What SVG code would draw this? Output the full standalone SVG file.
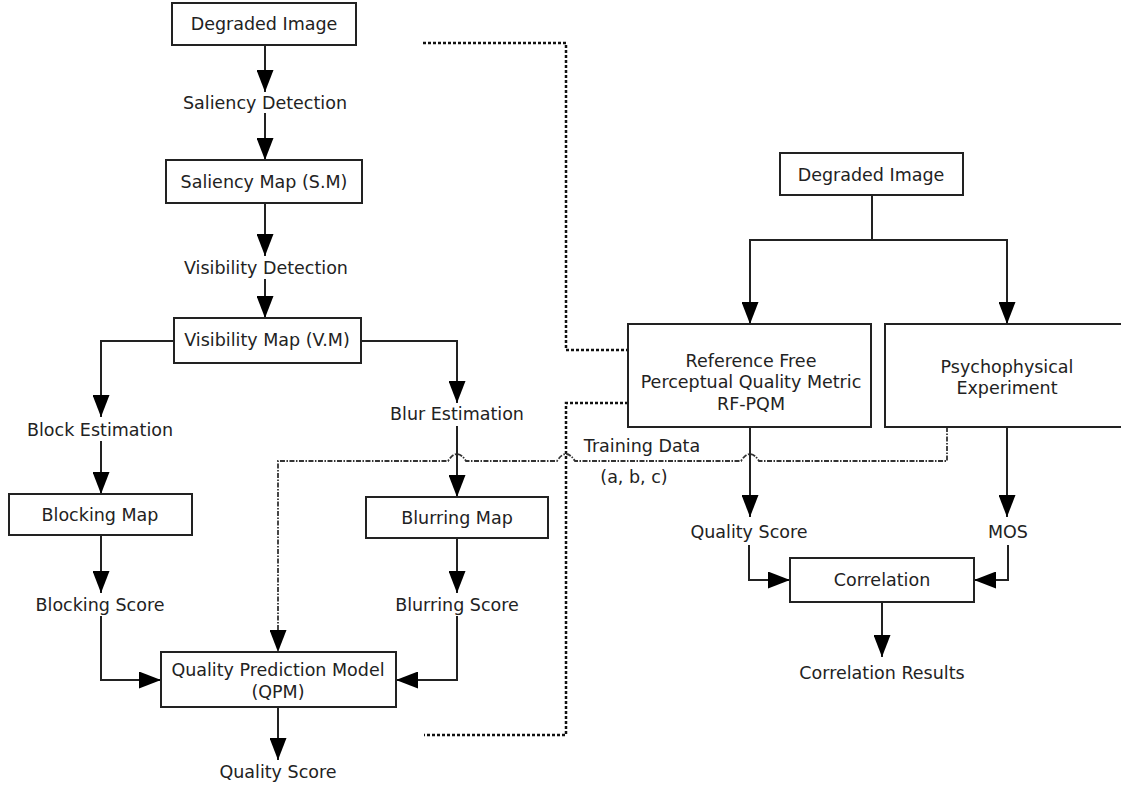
<svg xmlns="http://www.w3.org/2000/svg" width="1121" height="788" viewBox="0 0 1121 788">
<style>
.box{fill:#fff;stroke:#222;stroke-width:2}
.t{font-family:"DejaVu Sans",Verdana,sans-serif;font-size:17.5px;fill:#222;text-anchor:middle;dominant-baseline:central}
.c{fill:none;stroke:#222;stroke-width:2}
.d{fill:none;stroke:#111;stroke-width:2.5;stroke-dasharray:3,2}
.tr{fill:none;stroke:#333;stroke-width:1.8;stroke-dasharray:5,1.5,1.5,1.5}
</style>
<defs>
<marker id="ah" markerUnits="userSpaceOnUse" markerWidth="22" markerHeight="17" viewBox="0 0 22 17" refX="22" refY="8.5" orient="auto">
<path d="M0,0 L22,8.5 L0,17 Z" fill="#000"/>
</marker>
</defs>
<g id="connectors">
<path class="c" d="M265,45 V92" marker-end="url(#ah)"/>
<path class="c" d="M265,113 V160" marker-end="url(#ah)"/>
<path class="c" d="M265,203 V256" marker-end="url(#ah)"/>
<path class="c" d="M265,279 V318" marker-end="url(#ah)"/>
<path class="c" d="M174,341 H101 V417" marker-end="url(#ah)"/>
<path class="c" d="M101,441 V494" marker-end="url(#ah)"/>
<path class="c" d="M361,341 H457 V403" marker-end="url(#ah)"/>
<path class="c" d="M457,426 V497" marker-end="url(#ah)"/>
<path class="c" d="M101,535 V593" marker-end="url(#ah)"/>
<path class="c" d="M101,616 V680 H161" marker-end="url(#ah)"/>
<path class="c" d="M457,538 V593" marker-end="url(#ah)"/>
<path class="c" d="M457,616 V680 H396" marker-end="url(#ah)"/>
<path class="c" d="M278,707 V760" marker-end="url(#ah)"/>
<path class="d" d="M423,43 H566 V350 H628"/>
<path class="d" d="M628,403 H566 V735 H424"/>
<path class="tr" d="M947,427 V461 H759 Q750,447 741,461 H575 Q566,447 557,461 H466 Q457,447 448,461 H278 V652" marker-end="url(#ah)"/>
<path class="c" d="M872,195 V240"/>
<path class="c" d="M872,240 H750 V324" marker-end="url(#ah)"/>
<path class="c" d="M872,240 H1007 V324" marker-end="url(#ah)"/>
<path class="c" d="M750,427 V517" marker-end="url(#ah)"/>
<path class="c" d="M749,545 V580 H790" marker-end="url(#ah)"/>
<path class="c" d="M1007,427 V517" marker-end="url(#ah)"/>
<path class="c" d="M1008,545 V580 H974" marker-end="url(#ah)"/>
<path class="c" d="M882,602 V657" marker-end="url(#ah)"/>
</g>
<g id="labels">
<text class="t" x="265" y="103">Saliency Detection</text>
<text class="t" x="266" y="268">Visibility Detection</text>
<text class="t" x="100" y="430">Block Estimation</text>
<text class="t" x="457" y="414">Blur Estimation</text>
<text class="t" x="100" y="605">Blocking Score</text>
<text class="t" x="457" y="605">Blurring Score</text>
<text class="t" x="278" y="772">Quality Score</text>
<text class="t" x="642" y="446">Training Data</text>
<text class="t" x="634" y="477">(a, b, c)</text>
<text class="t" x="749" y="532">Quality Score</text>
<text class="t" x="1008" y="532">MOS</text>
<text class="t" x="882" y="673">Correlation Results</text>
</g>
<g id="degraded-left"><rect class="box" x="172" y="3" width="184" height="42"/><text class="t" x="264" y="24">Degraded Image</text></g>
<g id="saliency-map"><rect class="box" x="166" y="160" width="196" height="43"/><text class="t" x="264" y="182">Saliency Map (S.M)</text></g>
<g id="visibility-map"><rect class="box" x="174" y="318" width="187" height="45"/><text class="t" x="267" y="340">Visibility Map (V.M)</text></g>
<g id="blocking-map"><rect class="box" x="9" y="494" width="183" height="41"/><text class="t" x="100" y="515">Blocking Map</text></g>
<g id="blurring-map"><rect class="box" x="366" y="497" width="182" height="41"/><text class="t" x="457" y="518">Blurring Map</text></g>
<g id="qpm"><rect class="box" x="161" y="652" width="235" height="55"/><text class="t" x="278" y="670">Quality Prediction Model</text><text class="t" x="278" y="692">(QPM)</text></g>
<g id="degraded-right"><rect class="box" x="780" y="153" width="183" height="42"/><text class="t" x="871" y="175">Degraded Image</text></g>
<g id="rf-pqm"><rect class="box" x="628" y="324" width="243" height="103"/><text class="t" x="751" y="361">Reference Free</text><text class="t" x="751" y="382">Perceptual Quality Metric</text><text class="t" x="751" y="404">RF-PQM</text></g>
<g id="psychophysical"><rect class="box" x="885" y="324" width="245" height="103"/><text class="t" x="1007" y="367">Psychophysical</text><text class="t" x="1007" y="388">Experiment</text></g>
<g id="correlation"><rect class="box" x="790" y="558" width="184" height="44"/><text class="t" x="882" y="580">Correlation</text></g>
</svg>
